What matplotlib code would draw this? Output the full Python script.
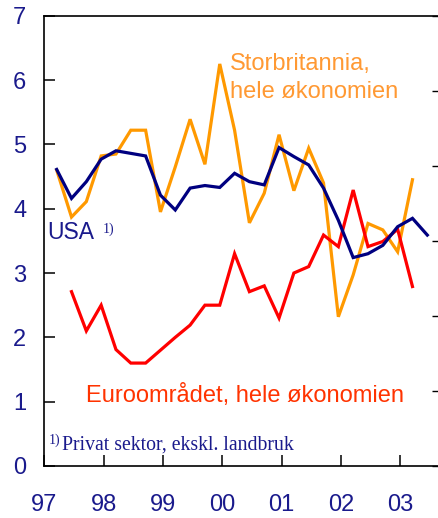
import matplotlib
matplotlib.use("Agg")
import matplotlib.pyplot as plt
import numpy as np

plt.rcParams['font.family'] = ['Liberation Sans', 'DejaVu Sans']

# Quarterly data, 1997Q1 ...
quarters = [f"{y}Q{q}" for y in range(1997, 2004) for q in range(1, 5)][:26]

usa = [4.61, 4.16, 4.42, 4.77, 4.90, 4.86, 4.82, 4.21, 3.98, 4.32, 4.36, 4.33, 4.55,
       4.42, 4.37, 4.95, 4.81, 4.68, 4.32, 3.82, 3.24, 3.30, 3.43, 3.72, 3.85, 3.59]
uk = [4.60, 3.87, 4.11, 4.82, 4.85, 5.22, 5.22, 3.95, 4.65, 5.39, 4.69, 6.25, 5.22,
      3.78, 4.24, 5.15, 4.28, 4.94, 4.40, 2.32, 2.97, 3.77, 3.67, 3.33, 4.45]
euro = [None, 2.71, 2.10, 2.50, 1.81, 1.60, 1.60, 1.80, 2.00, 2.19, 2.50, 2.50, 3.30,
        2.71, 2.80, 2.30, 3.00, 3.10, 3.59, 3.41, 4.29, 3.41, 3.49, 3.68, 2.79]

year_labels = ["97", "98", "99", "00", "01", "02", "03"]
yticks_left = [0, 1, 2, 3, 4, 5, 6, 7]

NAVY = "#000080"
ORANGE = "#FF9900"
RED = "#FF0000"
TXT_NAVY = "#1A1A8C"
TXT_ORANGE = "#FF9933"
TXT_RED = "#FF3300"


def qpos(q):
    y, n = q.split("Q")
    return int(y) + 0.207 + 0.25 * (int(n) - 1)


fig = plt.figure(figsize=(4.38, 5.18), dpi=100)
W, H = 438, 518
left_px, right_px, top_px, bot_px = 44.4, 440, 15.7, 466
ax = fig.add_axes([left_px / W, (H - bot_px) / H, (right_px - left_px) / W, (bot_px - top_px) / H])

x_usa = [qpos(q) for q in quarters[:len(usa)]]
x_uk = [qpos(q) for q in quarters[:len(uk)]]
x_eu = [qpos(q) for q, v in zip(quarters, euro) if v is not None]
v_eu = [v for v in euro if v is not None]

lw = 2.3
ax.plot(x_uk, uk, color=ORANGE, lw=lw, solid_joinstyle='miter', zorder=2)
ax.plot(x_eu, v_eu, color=RED, lw=lw, solid_joinstyle='miter', zorder=3)
ax.plot(x_usa, usa, color=NAVY, lw=lw, solid_joinstyle='miter', zorder=4)

x0 = 1997
xmax = x0 + (right_px - left_px) / 59.3
ax.set_xlim(x0, xmax)
ax.set_ylim(0, 7)

years = [x0 + i for i in range(len(year_labels))]
ax.set_xticks(years)
ax.set_xticklabels(year_labels)
ax.set_yticks(yticks_left)
ax.set_yticklabels([str(v) for v in yticks_left])

ax.tick_params(axis='x', direction='in', length=8, width=1.1, pad=20,
               labelsize=17, labelcolor=TXT_NAVY, color='black')
ax.tick_params(axis='y', direction='in', length=8, width=1.1, pad=13,
               labelsize=17, labelcolor=TXT_NAVY, color='black', left=True, right=False)

for s in ['left', 'bottom', 'top']:
    ax.spines[s].set_linewidth(1.2)
    ax.spines[s].set_color('black')
ax.spines['right'].set_visible(False)

# right axis ticks (inward, no labels)
ax2 = ax.twinx()
ax2.set_ylim(0, 6)
ax2.set_yticks(range(0, 7))
ax2.tick_params(axis='y', direction='in', length=6, width=1.0, labelright=False, color='black')
for s in ax2.spines.values():
    s.set_visible(False)

# Annotations
ax.text(2000.13, 6.16, "Storbritannia,", color=TXT_ORANGE, fontsize=17, va='baseline', ha='left')
ax.text(2000.13, 5.72, "hele økonomien", color=TXT_ORANGE, fontsize=17, va='baseline', ha='left')
ax.text(1997.05, 3.53, "USA", color=TXT_NAVY, fontsize=16.5, va='baseline', ha='left')
ax.text(1997.98, 3.63, "1)", color=TXT_NAVY, fontsize=10, va='baseline', ha='left',
        family=['Liberation Serif', 'DejaVu Serif'])
ax.text(1997.70, 1.0, "Euroområdet, hele økonomien", color=TXT_RED, fontsize=17,
        va='baseline', ha='left')
ax.text(1997.08, 0.34, "1)", color=TXT_NAVY, fontsize=10, va='baseline', ha='left',
        family=['Liberation Serif', 'DejaVu Serif'])
ax.text(1997.30, 0.25, "Privat sektor, ekskl. landbruk", color=TXT_NAVY, fontsize=14.2,
        va='baseline', ha='left', family=['Liberation Serif', 'DejaVu Serif'])

fig.savefig("out.png", dpi=100)
